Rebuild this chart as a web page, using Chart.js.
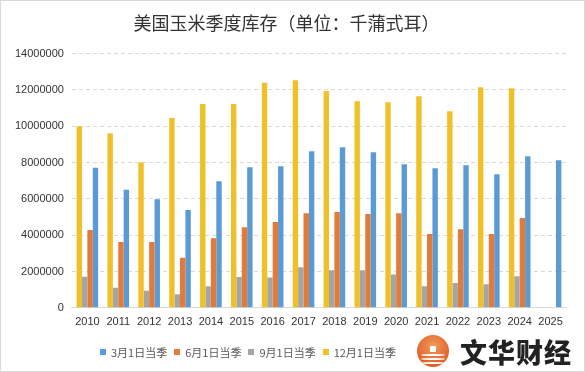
<!DOCTYPE html>
<html>
<head>
<meta charset="utf-8">
<script src="https://cdn.jsdelivr.net/npm/chart.js@4.4.0/dist/chart.umd.min.js"></script>
<style>
  body { margin: 0; background: #fff; }
  #wrap { position: relative; width: 585px; height: 372px; box-sizing: border-box; border: 1px solid #d9d9d9; overflow: hidden; }
  #chart { position: absolute; left: 0; top: 0; }
  #legend { position: absolute; left: 99px; top: 343px; font: 11px "Noto Sans CJK SC", sans-serif; color: #595959; display: flex; }
  #legend span.item { display: flex; align-items: center; margin-right: 7px; }
  #legend span.box { width: 6px; height: 6px; margin-right: 5px; display: inline-block; }
  #logo { position: absolute; left: 416px; top: 334px; width: 32px; height: 32px; border-radius: 50%; overflow: hidden; background: radial-gradient(circle at 50% 35%, #f29a5c, #e0612a 70%); }
  #logo i { position: absolute; left: 4px; width: 24px; height: 2px; background: #fff; border-radius: 50%; }
  #logo b { position: absolute; left: 13px; top: 11px; width: 6px; height: 6px; background: #fff; }
  #brand { position: absolute; left: 459px; top: 331px; font: 900 27px "Noto Sans CJK SC", sans-serif; color: #222; letter-spacing: 1px; }
</style>
</head>
<body>
<div id="wrap">
  <canvas id="chart" width="583" height="370"></canvas>
  <div id="legend"></div>
  <div id="logo"><b></b><i style="top:19px"></i><i style="top:23px"></i><i style="top:27px"></i></div>
  <div id="brand">文华财经</div>
</div>
<script>
// 年份
const years = ['2010','2011','2012','2013','2014','2015','2016','2017','2018','2019','2020','2021','2022','2023','2024','2025'];

// 各季度库存（千蒲式耳）
const mar1 = [7710000, 6500000, 5980000, 5380000, 6970000, 7740000, 7800000, 8620000, 8840000, 8570000, 7910000, 7690000, 7850000, 7360000, 8350000, 8130000];
const jun1 = [4290000, 3630000, 3630000, 2750000, 3830000, 4440000, 4730000, 5210000, 5270000, 5170000, 5210000, 4060000, 4330000, 4060000, 4940000, null];
const sep1 = [1710000, 1100000, 940000, 750000, 1190000, 1690000, 1670000, 2240000, 2070000, 2070000, 1830000, 1190000, 1360000, 1300000, 1740000, null];
const dec1 = [10000000, 9610000, 8000000, 10460000, 11230000, 11230000, 12390000, 12530000, 11940000, 11380000, 11320000, 11650000, 10830000, 12150000, 12090000, null];

const seriesNames = ['3月1日当季', '6月1日当季', '9月1日当季', '12月1日当季'];
const seriesColors = ['#5B9BD5', '#E07B39', '#A5A5A5', '#F0C028'];
const seriesData = [mar1, jun1, sep1, dec1];

// 柱子顺序：12月、9月、6月、3月
const order = [3, 2, 1, 0];
const datasets = order.map(i => ({
    label: seriesNames[i],
    data: seriesData[i],
    backgroundColor: seriesColors[i],
    borderWidth: 0,
    categoryPercentage: 0.7,
    barPercentage: 1.0
}));

const legend = document.getElementById('legend');
seriesNames.forEach((name, i) => {
    const item = document.createElement('span');
    item.className = 'item';
    item.innerHTML = `<span class="box" style="background:${seriesColors[i]}"></span>${name}`;
    legend.appendChild(item);
});

new Chart(document.getElementById('chart'), {
    type: 'bar',
    data: { labels: years, datasets: datasets },
    options: {
        responsive: false,
        animation: false,
        layout: { padding: { left: 6, right: 18, top: 0, bottom: 34 } },
        plugins: {
            legend: { display: false },
            tooltip: { enabled: false },
            title: {
                display: true,
                text: '美国玉米季度库存（单位：千蒲式耳）',
                color: '#333',
                font: { family: '"Noto Sans CJK SC", sans-serif', size: 18, weight: 'normal' },
                padding: { top: 11, bottom: 20 }
            }
        },
        scales: {
            x: {
                grid: { display: false, drawTicks: false },
                border: { color: '#d9d9d9' },
                ticks: { color: '#333', font: { family: '"Liberation Sans", sans-serif', size: 11 }, padding: 8, maxRotation: 0 }
            },
            y: {
                min: 0,
                max: 14000000,
                grid: { color: '#d9d9d9', drawTicks: false },
                border: { display: false, dash: [4, 3] },
                ticks: {
                    stepSize: 2000000,
                    color: '#333',
                    padding: 8,
                    font: { family: '"Liberation Sans", sans-serif', size: 11 },
                    callback: v => String(v)
                }
            }
        }
    }
});
</script>
</body>
</html>
